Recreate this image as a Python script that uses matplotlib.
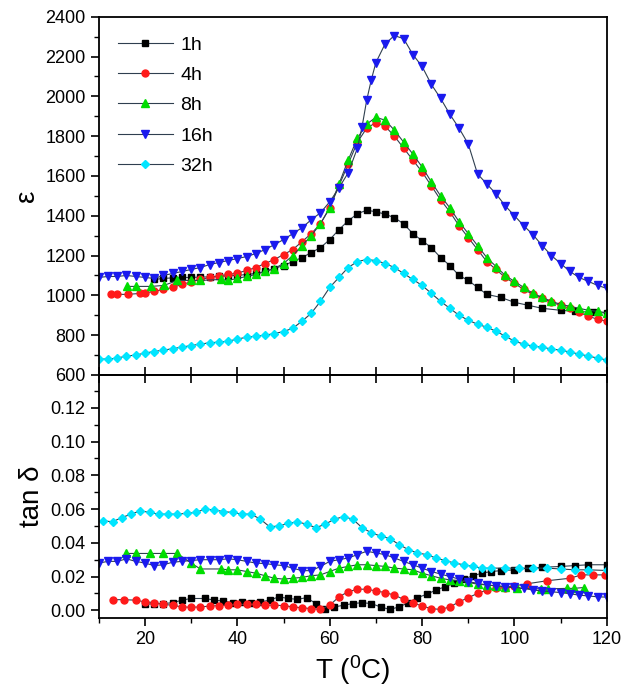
import numpy as np
import matplotlib
matplotlib.use('Agg')
import matplotlib.pyplot as plt
from matplotlib.ticker import MultipleLocator

plt.rcParams['font.family'] = ['Liberation Sans', 'DejaVu Sans']

# ---- dielectric constant (top panel) ----
t_1h = [22, 24, 26, 28, 30, 32, 34, 36, 38, 40, 42, 44, 46, 48, 50, 52, 54, 56, 58, 60,
        62, 64, 66, 68, 70, 72, 74, 76, 78, 80, 82, 84, 86, 88, 90, 92, 94, 97, 100, 103,
        106, 110, 113, 117, 120]
eps_1h = [1080, 1085, 1088, 1090, 1090, 1092, 1093, 1095, 1098, 1100, 1105, 1110, 1120, 1135,
          1150, 1170, 1190, 1215, 1240, 1280, 1330, 1375, 1410, 1428, 1420, 1408, 1390, 1360,
          1310, 1275, 1240, 1190, 1150, 1100, 1075, 1040, 1005, 990, 965, 950, 935, 925, 920,
          915, 912]

t_4h = [12.6, 14, 16.3, 19, 20, 22, 24, 26, 28, 30, 32, 34, 36, 38, 40, 42, 44, 46, 48, 50,
        52, 54, 56, 58, 60, 62, 64, 66, 68, 70, 72, 74, 76, 78, 80, 82, 84, 86, 88, 90, 92,
        94, 96, 98, 100, 102, 104, 106, 108, 110, 112, 114, 116, 118, 120]
eps_4h = [1005, 1005, 1005, 1010, 1012, 1020, 1030, 1040, 1055, 1068, 1080, 1090, 1098, 1105,
          1112, 1125, 1140, 1160, 1180, 1205, 1230, 1270, 1310, 1360, 1440, 1550, 1660, 1770,
          1840, 1868, 1850, 1800, 1740, 1680, 1620, 1550, 1480, 1420, 1350, 1290, 1230, 1170,
          1130, 1090, 1060, 1030, 1005, 985, 965, 950, 935, 915, 895, 880, 870]

t_8h = [16.2, 18, 21.3, 24.1, 27, 29.9, 32, 36.4, 38, 40, 42, 44, 46, 48, 50, 52, 54, 56, 58,
        60, 62, 64, 66, 68, 70, 72, 74, 76, 78, 80, 82, 84, 86, 88, 90, 92, 94, 96, 98, 100,
        102, 104, 106, 108, 110, 112, 114, 116, 118, 120]
eps_8h = [1045, 1045, 1045, 1050, 1075, 1075, 1075, 1080, 1075, 1085, 1095, 1105, 1120, 1135,
          1160, 1200, 1250, 1300, 1360, 1440, 1560, 1680, 1790, 1860, 1895, 1880, 1830, 1770,
          1710, 1645, 1570, 1500, 1440, 1370, 1310, 1250, 1190, 1145, 1100, 1070, 1040, 1010,
          990, 970, 955, 945, 935, 925, 920, 912]

t_16h = [10, 12, 14, 16, 18, 20, 22, 24, 26, 28, 30, 32, 34, 36, 38, 40, 42, 44, 46, 48, 50,
         52, 54, 56, 58, 60, 62, 64, 66, 67, 68, 69, 70, 72, 74, 76, 78, 80, 82, 84, 86, 88,
         90, 92, 94, 96, 98, 100, 102, 104, 106, 108, 110, 112, 114, 116, 118, 120]
eps_16h = [1090, 1095, 1095, 1100, 1095, 1090, 1085, 1100, 1110, 1120, 1130, 1140, 1155, 1165,
           1175, 1185, 1195, 1210, 1230, 1255, 1280, 1310, 1340, 1380, 1415, 1470, 1540, 1616,
           1740, 1847, 1980, 2083, 2170, 2264, 2305, 2290, 2210, 2150, 2060, 1990, 1910, 1840,
           1760, 1610, 1560, 1510, 1450, 1400, 1350, 1305, 1250, 1200, 1160, 1120, 1090, 1070,
           1050, 1035]

t_32h = [10, 12, 14, 16, 18, 20, 22, 24, 26, 28, 30, 32, 34, 36, 38, 40, 42, 44, 46, 48, 50,
         52, 54, 56, 58, 60, 62, 64, 66, 68, 70, 72, 74, 76, 78, 80, 82, 84, 86, 88, 90, 92,
         94, 96, 98, 100, 102, 104, 106, 108, 110, 112, 114, 116, 118, 120]
eps_32h = [680, 680, 685, 695, 700, 710, 718, 725, 732, 740, 748, 755, 762, 765, 770, 780, 790,
           795, 800, 808, 818, 835, 870, 910, 970, 1040, 1090, 1140, 1170, 1180, 1175, 1160,
           1140, 1110, 1080, 1050, 1010, 970, 935, 900, 875, 855, 840, 820, 795, 770, 755, 745,
           740, 730, 725, 715, 705, 695, 685, 675]

# ---- loss tangent (bottom panel) ----
tt_1h = [20, 22, 24, 26, 28, 30, 33, 35, 37, 39, 41, 43, 45, 47, 49, 51, 53, 55, 57, 59, 61,
         63, 65, 67, 69, 71, 73, 75, 77, 79, 81, 83, 85, 87, 89, 91, 93, 95, 97, 100, 103, 106,
         110, 113, 116, 120]
tan_1h = [0.0035, 0.004, 0.004, 0.0045, 0.006, 0.007, 0.007, 0.006, 0.0055, 0.0045, 0.005,
          0.0045, 0.005, 0.006, 0.008, 0.007, 0.0065, 0.0075, 0.004, 0.001, 0.002, 0.003, 0.004,
          0.0045, 0.004, 0.002, 0.0005, 0.002, 0.0045, 0.0075, 0.0095, 0.012, 0.014, 0.016,
          0.0185, 0.0205, 0.022, 0.023, 0.0235, 0.024, 0.025, 0.0255, 0.026, 0.0265, 0.027, 0.027]

tt_4h = [13, 15.5, 18, 20, 22, 24, 26, 28, 30, 32, 34, 36, 38, 40, 42, 44, 46, 48, 50, 52, 54,
         56, 58, 60, 62, 64, 66, 68, 70, 72, 74, 76, 78, 80, 82, 84, 86, 88, 90, 92, 94, 96, 98,
         100, 102.7, 107, 112, 114.5, 117, 119.6]
tan_4h = [0.0063, 0.0063, 0.006, 0.005, 0.0045, 0.0035, 0.003, 0.002, 0.0018, 0.002, 0.0025,
          0.0028, 0.003, 0.0035, 0.0035, 0.0035, 0.003, 0.003, 0.0028, 0.002, 0.0015, 0.001,
          0.0005, 0.003, 0.008, 0.011, 0.0125, 0.0125, 0.0115, 0.0105, 0.009, 0.0065, 0.0045,
          0.0025, 0.001, 0.0005, 0.002, 0.005, 0.0075, 0.01, 0.012, 0.013, 0.0135, 0.0145,
          0.0157, 0.0175, 0.019, 0.021, 0.021, 0.021]

tt_8h = [16, 18, 21, 24, 27, 30, 32, 36.5, 38, 40, 42, 44, 46, 48, 50, 52, 54, 56, 58, 60, 62,
         64, 66, 68, 70, 72, 74, 76, 78, 80, 82, 84, 86, 88, 90, 92, 94, 96, 98, 100.6, 105.8,
         107.2, 111.4, 112.8, 115]
tan_8h = [0.0337, 0.0337, 0.0337, 0.0337, 0.0337, 0.028, 0.0245, 0.0245, 0.024, 0.024, 0.023,
          0.022, 0.0205, 0.019, 0.0185, 0.019, 0.0195, 0.0205, 0.021, 0.023, 0.025, 0.026, 0.027,
          0.027, 0.0265, 0.026, 0.025, 0.0245, 0.024, 0.022, 0.0205, 0.019, 0.018, 0.0175,
          0.0165, 0.0155, 0.015, 0.0145, 0.014, 0.013, 0.0127, 0.0127, 0.013, 0.013, 0.0135]

tt_16h = [10, 12, 14, 16, 18, 20, 22, 24, 26, 28, 30, 32, 34, 36, 38, 40, 42, 44, 46, 48, 50,
          52, 54, 56, 58, 60, 62, 64, 66, 68, 70, 72, 74, 76, 78, 80, 82, 84, 86, 88, 90, 92,
          94, 96, 98, 100, 102, 104, 106, 108, 110, 112, 114, 116, 118, 120]
tan_16h = [0.028, 0.029, 0.029, 0.0305, 0.029, 0.028, 0.0265, 0.027, 0.0285, 0.029, 0.0295,
           0.030, 0.030, 0.030, 0.0305, 0.030, 0.029, 0.028, 0.0277, 0.027, 0.0265, 0.025,
           0.0235, 0.0235, 0.026, 0.029, 0.030, 0.031, 0.033, 0.035, 0.034, 0.033, 0.031, 0.029,
           0.027, 0.025, 0.023, 0.0215, 0.020, 0.0185, 0.017, 0.016, 0.015, 0.0145, 0.014,
           0.0137, 0.013, 0.012, 0.0115, 0.011, 0.0105, 0.0098, 0.009, 0.0085, 0.008, 0.0078]

tt_32h = [11, 13, 15, 17, 19, 21, 23, 25, 27, 29, 31, 33, 35, 37, 39, 41, 43, 45, 47, 49, 51,
          53, 55, 57, 59, 61, 63, 65, 67, 69, 71, 73, 75, 77, 79, 81, 83, 85, 87, 89, 91, 93,
          95, 98, 101, 104, 107, 110, 113, 116, 120]
tan_32h = [0.053, 0.0525, 0.055, 0.057, 0.059, 0.058, 0.057, 0.057, 0.057, 0.0575, 0.058, 0.060,
           0.0595, 0.0585, 0.058, 0.057, 0.057, 0.054, 0.0495, 0.05, 0.0515, 0.0525, 0.051,
           0.049, 0.051, 0.054, 0.0555, 0.054, 0.049, 0.046, 0.044, 0.0425, 0.039, 0.036, 0.034,
           0.033, 0.031, 0.0295, 0.028, 0.027, 0.026, 0.025, 0.025, 0.025, 0.025, 0.025, 0.025,
           0.0245, 0.024, 0.024, 0.0236]

labels = ['1h', '4h', '8h', '16h', '32h']
colors = ['black', '#ff1a1a', '#00dd00', '#1a1aee', '#00e5ff']
markers = ['s', 'o', '^', 'v', 'D']
msizes = [4.5, 5, 5.5, 5.5, 4.5]
line_col = '#2f3f4f'

eps_t = [t_1h, t_4h, t_8h, t_16h, t_32h]
eps_v = [eps_1h, eps_4h, eps_8h, eps_16h, eps_32h]
tan_t = [tt_1h, tt_4h, tt_8h, tt_16h, tt_32h]
tan_v = [tan_1h, tan_4h, tan_8h, tan_16h, tan_32h]

fig = plt.figure(figsize=(6.25, 6.97), dpi=100)
ax1 = fig.add_axes([0.158, 0.462, 0.813, 0.514])
ax2 = fig.add_axes([0.158, 0.1135, 0.813, 0.3485], sharex=ax1)

for i in range(5):
    ax1.plot(eps_t[i], eps_v[i], color=line_col, lw=0.8, marker=markers[i], ms=msizes[i],
             mfc=colors[i], mec=colors[i], label=labels[i])
    ax2.plot(tan_t[i], tan_v[i], color=line_col, lw=0.8, marker=markers[i], ms=msizes[i],
             mfc=colors[i], mec=colors[i])

ax1.set_xlim(10, 120)
ax1.set_ylim(600, 2400)
ax2.set_ylim(-0.0045, 0.1395)

ax1.yaxis.set_major_locator(MultipleLocator(200))
ax1.yaxis.set_minor_locator(MultipleLocator(100))
ax2.yaxis.set_major_locator(MultipleLocator(0.02))
ax2.yaxis.set_minor_locator(MultipleLocator(0.01))
ax2.yaxis.set_major_formatter(plt.FormatStrFormatter('%.2f'))
ax2.xaxis.set_major_locator(MultipleLocator(20))
ax2.xaxis.set_minor_locator(MultipleLocator(10))

for ax in (ax1, ax2):
    for s in ax.spines.values():
        s.set_linewidth(1.3)
    ax.tick_params(axis='y', which='major', direction='out', length=6, width=1.2,
                   labelsize=13, right=False)
    ax.tick_params(axis='y', which='minor', direction='out', length=3.5, width=1.0)

# upper panel: inward ticks on its bottom edge, no labels
ax1.tick_params(axis='x', which='both', direction='in', length=6, width=1.2,
                labelbottom=False, top=False)
# lower panel: outward ticks at the bottom only
ax2.tick_params(axis='x', which='major', direction='out', length=6, width=1.2,
                labelsize=13, top=False)
ax2.tick_params(axis='x', which='minor', direction='out', length=3.5, width=1.0, top=False)

# lower panel top edge: inward ticks every 10 degrees
sec = ax2.secondary_xaxis('top')
sec.xaxis.set_major_locator(MultipleLocator(10))
sec.tick_params(axis='x', direction='in', length=6, width=1.2, labeltop=False)
sec.spines['top'].set_linewidth(1.3)

ax1.set_ylabel('ε', fontsize=20)
ax2.set_ylabel('tan δ', fontsize=20)
ax2.set_xlabel(r'T ($\mathregular{^0}$C)', fontsize=20)

ax1.legend(loc='upper left', frameon=False, fontsize=14, numpoints=1, handlelength=2.8,
           handletextpad=0.4, labelspacing=0.65, borderaxespad=0.6)

fig.savefig('out.png', dpi=100)
